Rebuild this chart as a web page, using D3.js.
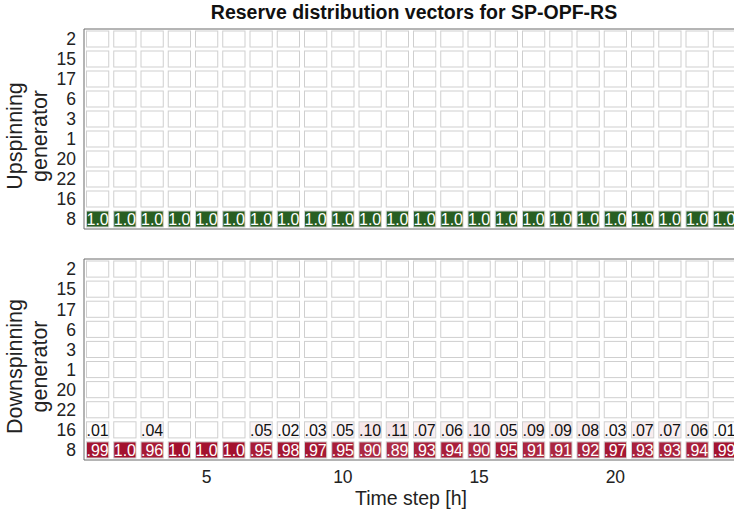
<!DOCTYPE html>
<html>
<head>
<meta charset="utf-8">
<script src="https://cdn.jsdelivr.net/npm/d3@7"></script>
<style>
  body { margin: 0; background: #fff; }
  svg { font-family: "Liberation Sans", Arial, Helvetica, sans-serif; }
</style>
</head>
<body>
<svg width="734" height="516"></svg>
<script>
// generators, top row first
var generators = ["2", "15", "17", "6", "3", "1", "20", "22", "16", "8"];
var timeSteps = [1, 2, 3, 4, 5, 6, 7, 8, 9, 10, 11, 12, 13, 14, 15, 16, 17, 18, 19, 20, 21, 22, 23, 24];
var xTicks = [5, 10, 15, 20];

// upspinning: only generator 8 carries reserve
var up8 = [1.0, 1.0, 1.0, 1.0, 1.0, 1.0, 1.0, 1.0, 1.0, 1.0, 1.0, 1.0,
           1.0, 1.0, 1.0, 1.0, 1.0, 1.0, 1.0, 1.0, 1.0, 1.0, 1.0, 1.0];
// downspinning: generators 16 and 8
var down16 = [0.01, 0, 0.04, 0, 0, 0, 0.05, 0.02, 0.03, 0.05, 0.10, 0.11,
              0.07, 0.06, 0.10, 0.05, 0.09, 0.09, 0.08, 0.03, 0.07, 0.07, 0.06, 0.01];
var down8 = [0.99, 1.0, 0.96, 1.0, 1.0, 1.0, 0.95, 0.98, 0.97, 0.95, 0.90, 0.89,
             0.93, 0.94, 0.90, 0.95, 0.91, 0.91, 0.92, 0.97, 0.93, 0.93, 0.94, 0.99];

function buildCells(rows) {
    var cells = [];
    generators.forEach(function(g) {
        timeSteps.forEach(function(t, i) {
            var v = rows[g] ? rows[g][i] : 0;
            cells.push({gen: g, t: t, v: v});
        });
    });
    return cells;
}

var svg = d3.select("svg");
var left = 84, right = 738;

var x = d3.scaleLinear().domain([0.5, 24.5]).range([left, right]);
var colW = x(2) - x(1);
var cellW = colW - 5;

var fmt = function(v) {
    if (v >= 1) return "1.0";
    return d3.format(".2f")(v).replace(/^0/, "");
};

var panels = [
    {top: 29, bottom: 229, label: ["Upspinning", "generator"],
     cells: buildCells({"8": up8}),
     color: d3.interpolateRgb("#ffffff", "#285e22")},
    {top: 259, bottom: 460, label: ["Downspinning", "generator"],
     cells: buildCells({"16": down16, "8": down8}),
     color: d3.interpolateRgb("#ffffff", "#a3112e")}
];

panels.forEach(function(p) {
    var y = d3.scaleBand().domain(generators).range([p.top, p.bottom]);
    var cellH = y.bandwidth() - 4;
    var g = svg.append("g");

    var cell = g.selectAll("g.cell")
        .data(p.cells)
        .enter().append("g")
        .attr("class", "cell")
        .attr("transform", function(d) {
            return "translate(" + x(d.t) + "," + (y(d.gen) + y.bandwidth() / 2) + ")";
        });

    cell.append("rect")
        .attr("x", -cellW / 2)
        .attr("y", -cellH / 2)
        .attr("width", cellW)
        .attr("height", cellH)
        .attr("fill", function(d) { return d.v > 0 ? p.color(d.v) : "#fff"; })
        .attr("stroke", "#cfcfcf")
        .attr("stroke-width", 1);

    cell.filter(function(d) { return d.v > 0; })
        .append("text")
        .attr("text-anchor", "middle")
        .attr("dy", "0.37em")
        .attr("font-size", 16)
        .attr("fill", function(d) { return d.v > 0.5 ? "#fff" : "#111"; })
        .text(function(d) { return fmt(d.v); });

    // frame: top, left, bottom
    g.append("path")
        .attr("d", "M" + right + "," + p.top + "H" + left + "V" + p.bottom + "H" + right)
        .attr("fill", "none")
        .attr("stroke", "#6b6b6b")
        .attr("stroke-width", 1);

    // y tick labels
    g.selectAll("text.ytick")
        .data(generators)
        .enter().append("text")
        .attr("class", "ytick")
        .attr("x", 76)
        .attr("y", function(d) { return y(d) + y.bandwidth() / 2; })
        .attr("dy", "0.36em")
        .attr("text-anchor", "end")
        .attr("font-size", 17.5)
        .attr("fill", "#222")
        .text(function(d) { return d; });

    // y label, two lines
    var cy = (p.top + p.bottom) / 2 + 7;
    g.append("text")
        .attr("transform", "translate(22," + cy + ") rotate(-90)")
        .attr("text-anchor", "middle")
        .attr("font-size", 21.5)
        .attr("fill", "#222")
        .text(p.label[0]);
    g.append("text")
        .attr("transform", "translate(47," + cy + ") rotate(-90)")
        .attr("text-anchor", "middle")
        .attr("font-size", 21.5)
        .attr("fill", "#222")
        .text(p.label[1]);
});

// x tick labels
svg.selectAll("text.xtick")
    .data(xTicks)
    .enter().append("text")
    .attr("class", "xtick")
    .attr("x", function(d) { return x(d); })
    .attr("y", 483)
    .attr("text-anchor", "middle")
    .attr("font-size", 17.5)
    .attr("fill", "#222")
    .text(function(d) { return d; });

svg.append("text")
    .attr("x", (left + right) / 2)
    .attr("y", 505)
    .attr("text-anchor", "middle")
    .attr("font-size", 19.5)
    .attr("fill", "#222")
    .text("Time step [h]");

svg.append("text")
    .attr("x", 414)
    .attr("y", 19)
    .attr("text-anchor", "middle")
    .attr("font-size", 19.5)
    .attr("font-weight", "bold")
    .attr("fill", "#111")
    .text("Reserve distribution vectors for SP-OPF-RS");
</script>
</body>
</html>
